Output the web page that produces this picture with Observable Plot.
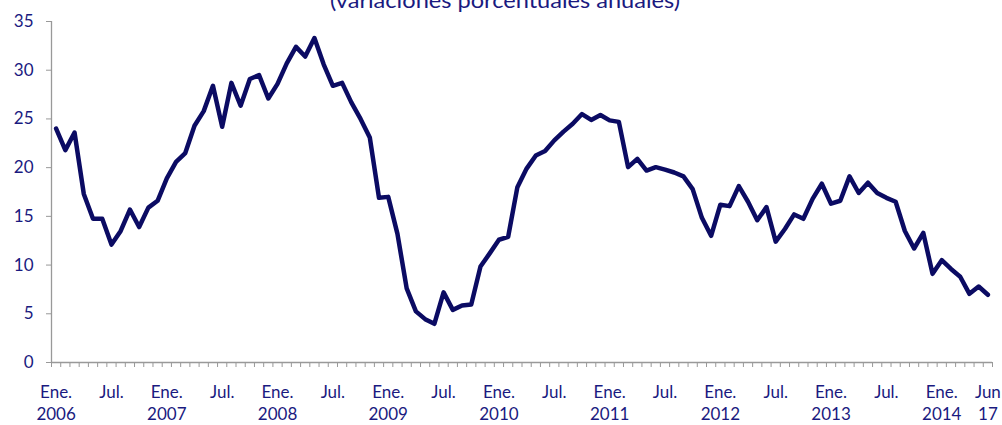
<!DOCTYPE html>
<html>
<head>
<meta charset="utf-8">
<script src="https://cdn.jsdelivr.net/npm/d3@7"></script>
<script src="https://cdn.jsdelivr.net/npm/@observablehq/plot@0.6"></script>
<style>
  html, body { margin: 0; padding: 0; background: #fff; }
  #wrap { position: relative; width: 1002px; height: 425px; overflow: hidden; }
  #title { position: absolute; left: 0; top: 0; pointer-events: none; }
  #chart svg { font-family: Lato, "Open Sans", sans-serif; }
  [aria-label="x-axis tick"], [aria-label="y-axis tick"] { stroke: #999; }
</style>
</head>
<body>
<div id="wrap">
  <div id="chart"></div>
  <svg id="title" width="1002" height="30">
    <text x="505" y="8" text-anchor="middle" font-family="Lato, 'Open Sans', sans-serif" font-size="22" fill="#1a1a80" textLength="350" lengthAdjust="spacingAndGlyphs">(variaciones porcentuales anuales)</text>
  </svg>
</div>
<script>
// Monthly categories: Jan 2006 .. Jun 2014 (102 months)
const months = d3.utcMonth.range(new Date(Date.UTC(2006, 0, 1)), new Date(Date.UTC(2014, 6, 1)));

// Annual percentage change
const values = [
  24.0, 21.8, 23.6, 17.3, 14.75, 14.75, 12.1, 13.5, 15.7, 13.9, 15.9, 16.6,
  18.9, 20.6, 21.5, 24.3, 25.8, 28.4, 24.2, 28.7, 26.35, 29.1, 29.5, 27.1,
  28.6, 30.7, 32.4, 31.4, 33.3, 30.6, 28.4, 28.7, 26.7, 25.0, 23.1, 16.9,
  17.0, 13.2, 7.6, 5.25, 4.45, 3.97, 7.2, 5.4, 5.85, 5.95, 9.86, 11.2,
  12.6, 12.9, 18.0, 19.9, 21.25, 21.7, 22.8, 23.7, 24.5, 25.5, 24.9, 25.4,
  24.85, 24.7, 20.05, 20.9, 19.7, 20.05, 19.8, 19.5, 19.1, 17.8, 14.85, 13.0,
  16.2, 16.05, 18.1, 16.5, 14.6, 15.95, 12.4, 13.7, 15.2, 14.75, 16.8, 18.35,
  16.3, 16.6, 19.1, 17.4, 18.45, 17.4, 16.9, 16.5, 13.5, 11.7, 13.3, 9.1,
  10.5, 9.6, 8.8, 7.05, 7.8, 6.95
];

// X tick labels (month index -> label)
const labelMonths = [0, 6, 12, 18, 24, 30, 36, 42, 48, 54, 60, 66, 72, 78, 84, 90, 96, 101];
const labelTexts = [
  "Ene.\n2006", "Jul.", "Ene.\n2007", "Jul.", "Ene.\n2008", "Jul.",
  "Ene.\n2009", "Jul.", "Ene.\n2010", "Jul.", "Ene.\n2011", "Jul.",
  "Ene.\n2012", "Jul.", "Ene.\n2013", "Jul.", "Ene.\n2014", "Jun\n17"
];

// Y ticks
const yTicks = [0, 5, 10, 15, 20, 25, 30, 35];

const data = months.map((m, i) => ({ i, date: m, v: values[i] }));
const labels = labelMonths.map((m, k) => ({ i: m, text: labelTexts[k] }));

const textColor = "#1a1a80";
const lineColor = "#0b0b63";

const chart = Plot.plot({
  width: 1002,
  height: 425,
  marginLeft: 51,
  marginRight: 10,
  marginTop: 21,
  marginBottom: 63,
  style: { color: textColor, fontSize: "17px", background: "transparent" },
  x: {
    type: "linear",
    domain: [0, months.length],
    ticks: d3.range(0, months.length + 1),
    tickFormat: () => "",
    tickSize: 5,
    label: null
  },
  y: {
    domain: [0, 35],
    ticks: yTicks,
    tickSize: 5,
    tickPadding: 13,
    label: null
  },
  marks: [
    Plot.ruleX([0], { stroke: "#999", strokeWidth: 1.3 }),
    Plot.ruleY([0], { stroke: "#999", strokeWidth: 1.3 }),
    Plot.text(labels, {
      x: d => d.i + 0.5,
      frameAnchor: "bottom",
      dy: 20,
      text: "text",
      lineAnchor: "top",
      lineHeight: 1.3,
      fill: textColor,
      fontSize: 17
    }),
    Plot.line(data, {
      x: d => d.i + 0.5,
      y: "v",
      stroke: lineColor,
      strokeWidth: 4.5,
      strokeLinejoin: "round",
      strokeLinecap: "round"
    })
  ]
});
document.getElementById("chart").appendChild(chart);
</script>
</body>
</html>
